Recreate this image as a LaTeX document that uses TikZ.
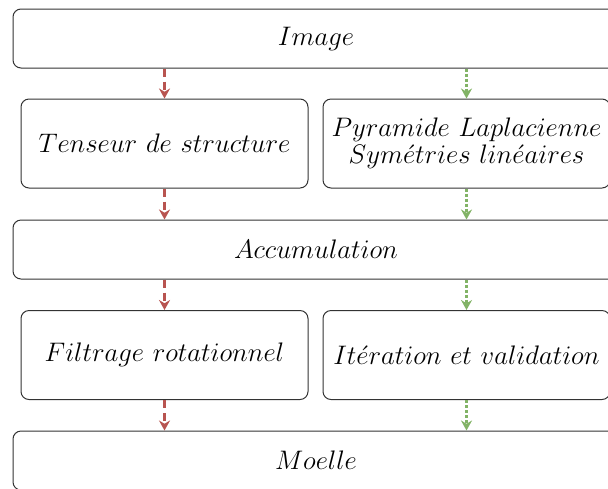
\RequirePackage{fix-cm}
\documentclass[tikz,border=0pt]{standalone}
\usepackage{tikz}
\usetikzlibrary{arrows.meta, positioning}
\usepackage{amsmath}
\definecolor{flowred}{HTML}{B85450}
\definecolor{flowgreen}{HTML}{82B366}
\definecolor{boxborder}{HTML}{333333}

\tikzset{
  widebox/.style={draw=boxborder, line width=0.5pt, rounded corners=4pt,
    minimum width=303pt, minimum height=29.5pt, inner sep=0pt,
    font=\fontsize{13.4pt}{13.6pt}\selectfont},
  smallbox/.style={draw=boxborder, line width=0.5pt, rounded corners=4pt,
    minimum width=143.5pt, minimum height=44.5pt, inner sep=0pt, align=center,
    font=\fontsize{13.4pt}{13.6pt}\selectfont},
  redflow/.style={draw=flowred, line width=1.1pt, dash pattern=on 4pt off 2.5pt,
    -{Stealth[length=5pt, width=5.5pt]}},
  greenflow/.style={draw=flowgreen, line width=1.1pt, dash pattern=on 1.5pt off 1pt,
    -{Stealth[length=5pt, width=5.5pt]}}
}

\begin{document}
\begin{tikzpicture}[x=0.5pt, y=-0.5pt]
\useasboundingbox (0,0) rectangle (608,488);
\clip (0,0) rectangle (608,488);

% stages
\node[widebox] (image) at (316,38.5) {$Image$};
\node[smallbox] (tenseur) at (164.5,143.5) {$Tenseur\ de\ structure$};
\node[smallbox] (pyramide) at (466.5,143.5)
  {$Pyramide\ Laplacienne$\\$Sym\acute{e}tries\ lin\acute{e}aires$};
\node[widebox] (accum) at (316,249.5) {$Accumulation$};
\node[smallbox] (filtrage) at (164.5,355) {$Filtrage\ rotationnel$};
\node[smallbox] (iteration) at (466.5,355) {$It\acute{e}ration\ et\ validation$};
\node[widebox] (moelle) at (316,460.5) {$Moelle$};

% left chain
\draw[redflow] (image.south -| tenseur.north) -- (tenseur.north);
\draw[redflow] (tenseur.south) -- (accum.north -| tenseur.south);
\draw[redflow] (accum.south -| filtrage.north) -- (filtrage.north);
\draw[redflow] (filtrage.south) -- (moelle.north -| filtrage.south);

% right chain
\draw[greenflow] (image.south -| pyramide.north) -- (pyramide.north);
\draw[greenflow] (pyramide.south) -- (accum.north -| pyramide.south);
\draw[greenflow] (accum.south -| iteration.north) -- (iteration.north);
\draw[greenflow] (iteration.south) -- (moelle.north -| iteration.south);
\end{tikzpicture}
\end{document}
